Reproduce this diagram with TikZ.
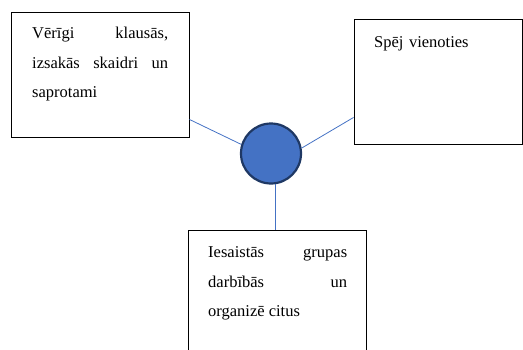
\documentclass[tikz,border=0pt]{standalone}
\usepackage{fontspec}
\setmainfont{Liberation Serif}
\usetikzlibrary{calc}
\definecolor{cfill}{HTML}{4472C4}
\definecolor{cedge}{HTML}{1F3864}
\begin{document}
\begin{tikzpicture}[x=1pt,y=-1pt,
  box/.style={draw=black,line width=0.9pt,fill=white,inner sep=0pt},
  txt/.style={anchor=north west,inner sep=0pt,align=justify,font=\fontsize{16.5}{29.8}\selectfont},
  conn/.style={draw=cfill,line width=0.8pt}]
\useasboundingbox (0,0) rectangle (523,349);
\clip (0,0) rectangle (523,349);
\node[box,minimum width=178pt,minimum height=125pt] (b1) at (100,74.5) {};
\node[box,minimum width=168pt,minimum height=125pt] (b2) at (438,81.5) {};
\node[box,minimum width=178pt,minimum height=130pt] (b3) at (277,295) {};
\node[circle,draw=cedge,fill=cfill,line width=2.2pt,minimum size=60pt,inner sep=0pt] (c) at (271,153.5) {};
\draw[conn] ($(b1.south east)+(0,-18)$) -- (c.163);
\draw[conn] (c.10) -- ($(b2.south west)+(0,-27)$);
\draw[conn] (c.-81) -- (c.-81 |- b3.north);
\node[txt,text width=136pt] (t1) at (32,26) {\rule{0pt}{12pt}Vērīgi klausās,\linebreak izsakās skaidri un\linebreak saprotami};
\node[txt,text width=130pt,align=left] (t2) at (374,35) {\rule{0pt}{12pt}Spēj vienoties};
\node[txt,text width=139pt] (t3) at (208,245) {\rule{0pt}{12pt}Iesaistās grupas\linebreak darbībās un\linebreak organizē citus};
\end{tikzpicture}
\end{document}
